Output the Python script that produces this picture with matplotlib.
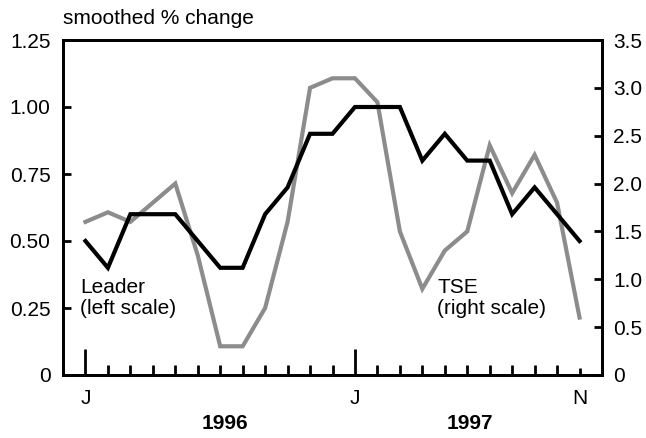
import matplotlib
matplotlib.use("Agg")
import matplotlib.pyplot as plt
import matplotlib.transforms as mtransforms

plt.rcParams['font.family'] = ['Liberation Sans', 'DejaVu Sans']

months = list(range(23))  # Jan 1996 .. Nov 1997
leader = [0.5, 0.4, 0.6, 0.6, 0.6, 0.5, 0.4, 0.4, 0.6, 0.7, 0.9, 0.9,
          1.0, 1.0, 1.0, 0.8, 0.9, 0.8, 0.8, 0.6, 0.7, 0.6, 0.5]
tse = [1.6, 1.7, 1.6, 1.8, 2.0, 1.25, 0.3, 0.3, 0.7, 1.6, 3.0, 3.1,
       3.1, 2.85, 1.5, 0.9, 1.3, 1.5, 2.4, 1.9, 2.3, 1.8, 0.6]
x_tick_pos = [0, 12, 22]
x_tick_labels = ['J', 'J', 'N']
years = ['1996', '1997']
year_pos = [6.2, 17.1]
left_ticks = [0, 0.25, 0.5, 0.75, 1.0, 1.25]
left_labels = ['0', '0.25', '0.50', '0.75', '1.00', '1.25']
right_ticks = [0, 0.5, 1.0, 1.5, 2.0, 2.5, 3.0, 3.5]
right_labels = ['0', '0.5', '1.0', '1.5', '2.0', '2.5', '3.0', '3.5']

fig = plt.figure(figsize=(6.46, 4.38), dpi=100)
ax = fig.add_axes([63/646, 63/438, (602-63)/646, (375-40)/438])
ax2 = ax.twinx()

gray = '#8c8c8c'
ax2.plot(months, tse, color=gray, lw=3.0, solid_joinstyle='miter', zorder=2)
ax.plot(months, leader, color='black', lw=3.0, solid_joinstyle='miter', zorder=3)
ax.set_zorder(ax2.get_zorder() + 1)
ax.patch.set_visible(False)

ax.set_xlim(-1, 23)
ax.set_ylim(0, 1.25)
ax2.set_ylim(0, 3.5)

fs = 15
ax.set_yticks(left_ticks)
ax.set_yticklabels(left_labels, fontsize=fs)
ax2.set_yticks(right_ticks)
ax2.set_yticklabels(right_labels, fontsize=fs)
ax.tick_params(axis='y', direction='in', length=6, width=2, pad=9)
ax2.tick_params(axis='y', direction='in', length=6, width=2, pad=8)

# x ticks: labels only; marks drawn below
ax.set_xticks(x_tick_pos)
ax.set_xticklabels(x_tick_labels, fontsize=fs)
ax.set_xticks([m for m in months if m not in (0, 12, 22)], minor=True)
ax.tick_params(axis='x', which='major', direction='in', length=0, pad=10)
ax.tick_params(axis='x', which='minor', direction='in', length=7, width=2)

tr = mtransforms.blended_transform_factory(ax.transData, ax.transAxes)
for xp in (0, 12):
    ax.plot([xp, xp], [0, 26/335], color='black', lw=2, transform=tr, clip_on=False,
            solid_capstyle='butt')
ax.plot([22, 22], [0, 7/335], color='black', lw=2, transform=tr, clip_on=False,
        solid_capstyle='butt')

for sp in ax.spines.values():
    sp.set_linewidth(2)
for sp in ax2.spines.values():
    sp.set_linewidth(2)

for yp, yl in zip(year_pos, years):
    ax.text(yp, -0.145, yl, transform=tr, ha='center', va='center',
            fontsize=fs, fontweight='bold')

fig.text(63/646, 1 - 19/438, 'smoothed % change', ha='left', va='center', fontsize=fs)

ax.text(80/646, 1 - 278/438, 'Leader\n(left scale)', transform=fig.transFigure,
        ha='left', va='top', fontsize=fs, linespacing=1.15)
ax.text(437/646, 1 - 278/438, 'TSE\n(right scale)', transform=fig.transFigure,
        ha='left', va='top', fontsize=fs, linespacing=1.15)

fig.savefig('out.png', dpi=100)
